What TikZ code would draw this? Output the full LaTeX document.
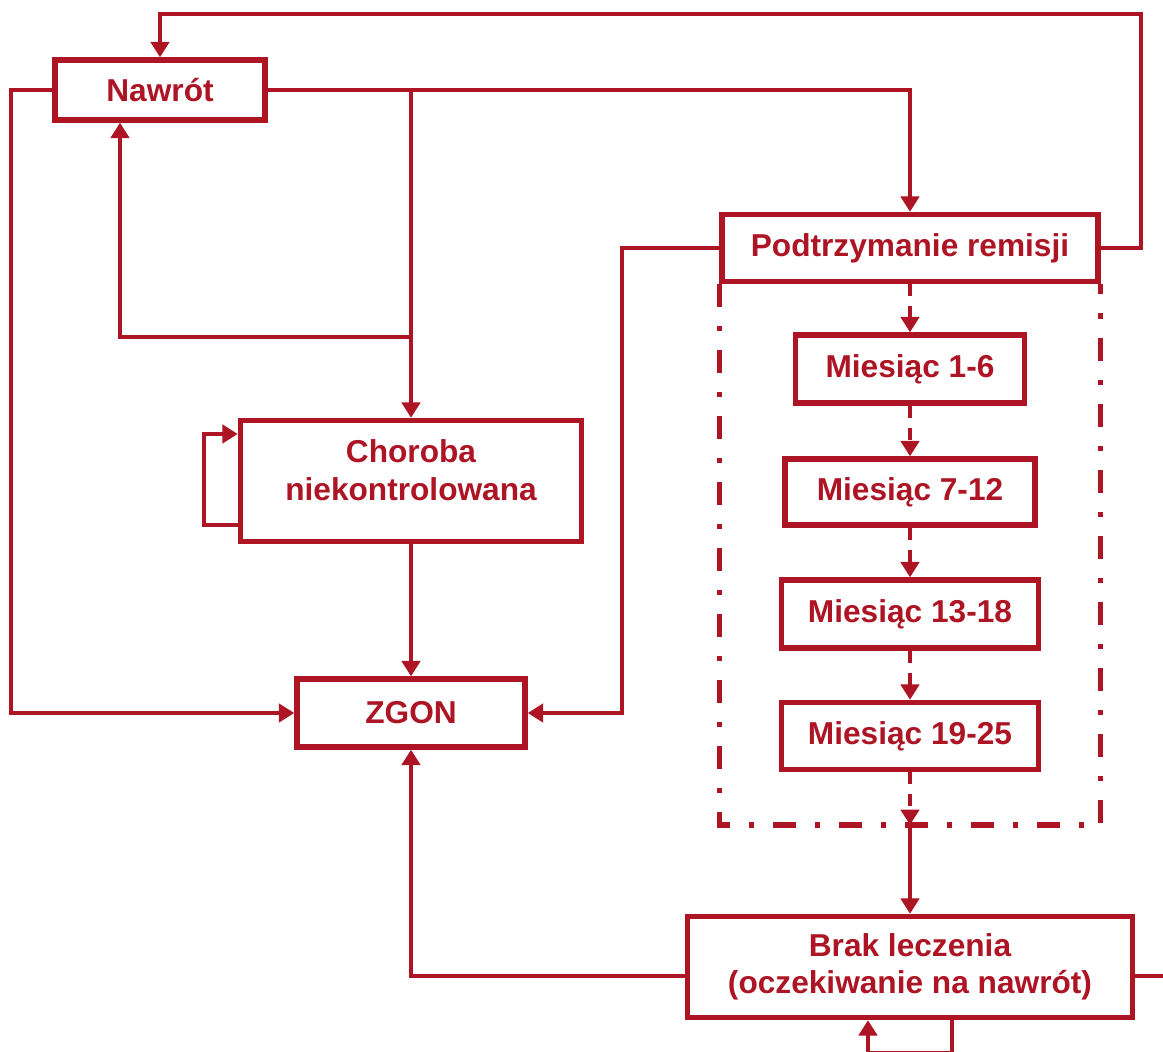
\documentclass[tikz,border=0pt]{standalone}
\usepackage{fontspec}
\setmainfont{Liberation Sans}
\usepackage{tikz}
\usetikzlibrary{arrows.meta,positioning}
\definecolor{rot}{RGB}{173,20,36}

\begin{document}
\begin{tikzpicture}[x=0.01cm,y=-0.01cm,
  kasten/.style={draw=rot,line width=1.5pt,text=rot,font=\fontsize{9}{10.7}\selectfont\bfseries,align=center,inner sep=0pt},
  linie/.style={draw=rot,line width=1.25pt},
  pfeil/.style={linie,-{Triangle[length=4.4pt,width=5.2pt]}},
  gestrichelt/.style={pfeil,dash pattern=on 0.12cm off 0.1cm},
  rahmen/.style={draw=rot,line width=1.5pt,dash pattern=on 0.23cm off 0.19cm on 0.05cm off 0.19cm}]
\useasboundingbox (0,0) rectangle (1163,1052);
%Kaesten
\node[kasten,minimum width=2.10cm,minimum height=0.60cm] (nawrot) at (160,90) {Nawrót};
\node[kasten,minimum width=3.76cm,minimum height=0.67cm] (remisja) at (910,248) {Podtrzymanie remisji};
\node[kasten,minimum width=2.29cm,minimum height=0.68cm] (m1) at (910,369) {Miesiąc 1-6};
\node[kasten,minimum width=2.50cm,minimum height=0.66cm] (m2) at (910,492) {Miesiąc 7-12};
\node[kasten,minimum width=2.57cm,minimum height=0.68cm] (m3) at (910,614) {Miesiąc 13-18};
\node[kasten,minimum width=2.57cm,minimum height=0.67cm] (m4) at (910,736) {Miesiąc 19-25};
\node[kasten,minimum width=3.41cm,minimum height=1.21cm,text depth=0.22cm] (choroba) at (411,481) {Choroba\\niekontrolowana};
\node[kasten,minimum width=2.28cm,minimum height=0.68cm] (zgon) at (411,713) {ZGON};
\node[kasten,minimum width=4.45cm,minimum height=1.01cm] (brak) at (910,967) {Brak leczenia\\(oczekiwanie na nawrót)};
\coordinate (oben) at (1141,14);
\coordinate (rahmenunten) at (910,825);
\coordinate (abzweig) at (411,337);
\coordinate (rueck) at (120,337);
%Rahmen um die Remission
\draw[rahmen] (remisja.south west) -- (remisja.south west |- rahmenunten) -- (remisja.south east |- rahmenunten) -- (remisja.south east);
\draw[gestrichelt] (remisja.south) -- (m1.north);
\draw[gestrichelt] (m1.south) -- (m2.north);
\draw[gestrichelt] (m2.south) -- (m3.north);
\draw[gestrichelt] (m3.south) -- (m4.north);
\draw[gestrichelt] (m4.south) -- (rahmenunten);
\draw[pfeil] (rahmenunten) -- (brak.north);
%Verbindungen
\draw[pfeil] (remisja.east) -| (oben) -| (nawrot.north);
\draw[pfeil] (nawrot.east) -| (remisja.north);
\draw[pfeil] (nawrot.east -| choroba.north) -- (choroba.north);
\draw[pfeil] (abzweig) -- (rueck) -- (rueck |- nawrot.south);
\draw[pfeil] (nawrot.west) -- ++(-41,0) |- (zgon.west);
\draw[pfeil] (choroba) -- (zgon);
\draw[pfeil] ([yshift=-0.44cm]choroba.west) -- ++(-34,0) |- ([yshift=0.47cm]choroba.west);
\draw[pfeil] (remisja.west) -- ++(-97,0) |- (zgon.east);
\draw[pfeil] ([yshift=-0.09cm]brak.west) -| (zgon.south);
\draw[linie] ([yshift=-0.09cm]brak.east) -- ++(40,0);
\draw[pfeil] ([xshift=0.42cm]brak.south) -- ++(0,33) -| ([xshift=-0.42cm]brak.south);
\end{tikzpicture}
\end{document}
